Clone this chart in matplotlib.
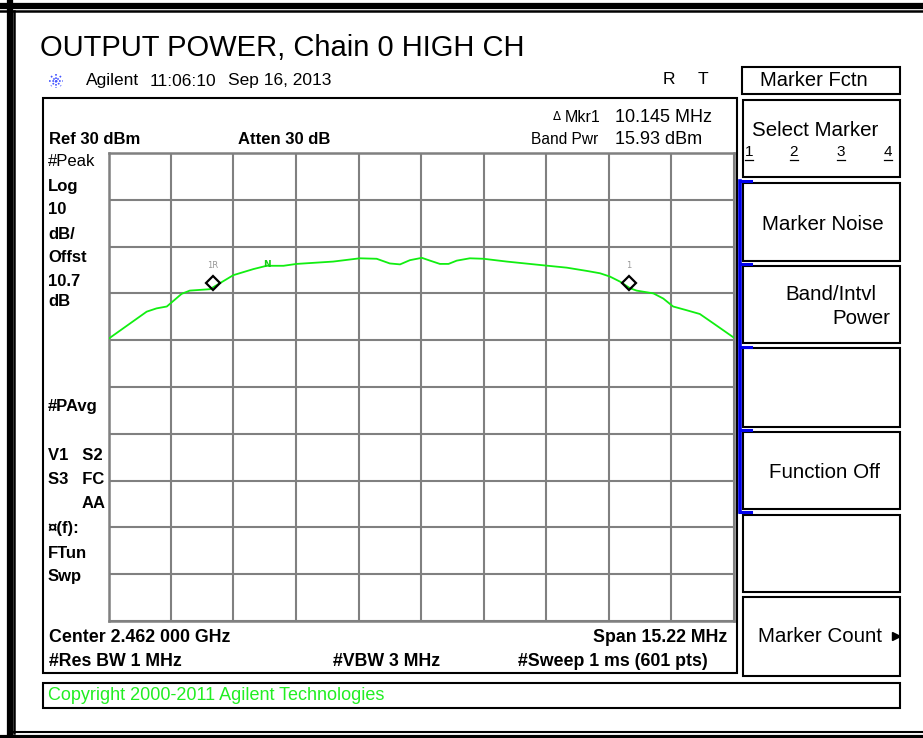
import matplotlib
matplotlib.use("Agg")
import numpy as np
import matplotlib.pyplot as plt
from matplotlib.patches import Rectangle
from matplotlib.lines import Line2D

# trace: offset from centre (MHz) and level (dBm)
freq_mhz = [-7.61, -6.68, -6.44, -6.19, -5.83, -5.63, -5.14, -4.57, -4.08, -3.76,
            -3.35, -3.03, -2.14, -1.49, -1.08, -0.76, -0.51, -0.27, 0.02, 0.22,
            0.46, 0.67, 0.87, 1.19, 1.52, 2.09, 2.98, 3.55, 4.04, 4.36,
            4.60, 4.85, 5.09, 5.25, 5.66, 5.90, 6.14, 6.47, 6.79, 7.12, 7.61]
level_dbm = [-9.7, -3.9, -3.2, -2.8, -0.1, 0.6, 0.9, 3.9, 5.2, 5.9,
             5.9, 6.3, 6.8, 7.5, 7.4, 6.4, 6.2, 7.1, 7.6, 7.0,
             6.3, 6.3, 7.0, 7.5, 7.4, 6.8, 6.0, 5.5, 4.8, 4.3,
             3.6, 2.5, 1.1, 0.6, 0.0, -1.1, -2.8, -3.6, -4.4, -6.4, -9.4]

marker_freq = [-5.07, 5.07]
marker_level = [2.3, 2.3]
marker_names = ["1R", "1"]
noise_freq = -3.76
noise_level = 5.9

ref_level = 30
db_per_div = 10
span_mhz = 15.22

left_labels = [("#Peak", 162, "normal"), ("Log", 186, "bold"), ("10", 210, "bold"),
               ("dB/", 234, "bold"), ("Offst", 258, "bold"), ("10.7", 281, "bold"),
               ("dB", 302, "bold"), ("#PAvg", 407, "bold"), ("V1   S2", 456, "bold"),
               ("S3   FC", 480, "bold"), ("¤(f):", 528, "bold"), ("FTun", 553, "bold"),
               ("Swp", 577, "bold")]

W, H = 923, 738
fig = plt.figure(figsize=(W / 100, H / 100), dpi=100)
fig.patch.set_facecolor("white")

SANS = ["Liberation Sans", "DejaVu Sans"]


def fx(x):
    return x / W


def fy(y):
    return 1 - y / H


def txt(x, y, s, size=12, weight="normal", ha="left", color="black", family=SANS):
    fig.text(fx(x), fy(y), s, fontsize=size, fontweight=weight, ha=ha, va="center",
             color=color, family=family)


def box(x0, y0, x1, y1, lw=1.5, ec="black"):
    fig.add_artist(Rectangle((fx(x0), fy(y1)), (x1 - x0) / W, (y1 - y0) / H,
                             fill=False, lw=lw, ec=ec, transform=fig.transFigure))


def seg(xs, ys, lw=1.5, color="black", **kw):
    fig.add_artist(Line2D([fx(x) for x in xs], [fy(y) for y in ys], lw=lw,
                          color=color, transform=fig.transFigure, **kw))


# outer frame
seg([0, W], [5.5, 5.5], lw=4.5)
seg([0, W], [11, 11], lw=1.8)
seg([10, 10], [0, H], lw=4.5)
seg([14.5, 14.5], [11, 733], lw=1.8)
seg([14.5, W], [732, 732], lw=1.5)
seg([0, W], [736.5, 736.5], lw=3)

# title / header
txt(40, 48, "OUTPUT POWER, Chain 0 HIGH CH", size=21)
for a in np.arange(0, 180, 45):
    dx, dy = 7 * np.cos(np.radians(a)), 7 * np.sin(np.radians(a))
    seg([56 - dx, 56 + dx], [81 - dy, 81 + dy], lw=1.2, color="#4455ff", ls=(0, (1, 1)))
txt(86, 81, "Agilent", size=12.5)
txt(150, 81, "11:06:10", size=12.5)
txt(228, 81, "Sep 16, 2013", size=12.5)
txt(663, 80, "R", size=12.5)
txt(698, 80, "T", size=12.5)

# main screen box
box(43, 98, 737, 673)
txt(553, 117, "\u0394", size=8.5, family=["DejaVu Sans"])
txt(565, 117, "Mkr1", size=11.5)
txt(615, 117, "10.145 MHz", size=13)
txt(531, 139, "Band Pwr", size=11.2)
txt(615, 139, "15.93 dBm", size=13)
txt(49, 139, "Ref 30 dBm", size=12, weight="bold")
txt(238, 139, "Atten 30 dB", size=12, weight="bold")
for s, y, w in left_labels:
    txt(48, y, s, size=12, weight=w)
txt(106, 504, "AA", size=12, weight="bold", ha="right")

txt(49, 637, "Center 2.462 000 GHz", size=12.8, weight="bold")
txt(727, 637, "Span 15.22 MHz", size=12.8, weight="bold", ha="right")
txt(49, 661, "#Res BW 1 MHz", size=12.8, weight="bold")
txt(333, 661, "#VBW 3 MHz", size=12.8, weight="bold")
txt(708, 661, "#Sweep 1 ms (601 pts)", size=12.8, weight="bold", ha="right")

# graticule + trace
ax = fig.add_axes([fx(108.5), fy(621), 625 / W, 468 / H])
half = span_mhz / 2
ax.set_xlim(-half, half)
ax.set_ylim(ref_level - 10 * db_per_div, ref_level)
ax.set_xticks(np.linspace(-half, half, 11))
ax.set_yticks(np.arange(ref_level - 10 * db_per_div, ref_level + 1, db_per_div))
ax.tick_params(length=0, labelbottom=False, labelleft=False)
ax.grid(True, color="#808080", lw=1.5)
for sp in ax.spines.values():
    sp.set_color("#808080")
    sp.set_linewidth(1.8)
ax.set_facecolor("white")

ax.plot(freq_mhz, level_dbm, color="#11ee11", lw=1.3, zorder=3)
ax.plot(marker_freq, marker_level, ls="none", marker="D", ms=7.5, mfc="none",
        mec="black", mew=1.6, zorder=4)
for f, l, name in zip(marker_freq, marker_level, marker_names):
    ax.annotate(name, (f, l), xytext=(0, 12), textcoords="offset points", ha="center",
                va="center", fontsize=6, color="#999999", family=["DejaVu Sans"])
ax.text(noise_freq, noise_level + 0.2, "N", color="#11cc11", fontsize=6.5,
        fontweight="bold", ha="center", va="center")

# soft keys
box(742, 67, 900, 94)
txt(760, 80, "Marker Fctn", size=14.5)
key_rows = [(100, 177), (183, 261), (266, 343), (348, 427), (432, 509), (515, 592), (597, 676)]
for top, bot in key_rows:
    box(743, top, 900, bot)
txt(752, 130, "Select Marker", size=14.8)
for x, d in zip([749, 794, 841, 888], "1234"):
    txt(x, 152, d, size=11, ha="center")
    seg([x - 4, x + 4], [160, 160], lw=0.9)
txt(762, 224, "Marker Noise", size=14.8)
txt(785, 295, "Band/Intvl", size=14.8)
txt(890, 318, "Power", size=14.8, ha="right")
txt(769, 473, "Function Off", size=14.8)
txt(758, 637, "Marker Count", size=14.8)
seg([896], [636], lw=0, marker=">", ms=5.5, mfc="black", mec="black")

seg([740, 740], [181, 512], lw=2.6, color="#0000ee")
for y in [181, 264, 347, 430, 512]:
    seg([740, 751], [y, y], lw=2.2, color="#0000ee")

# copyright strip
box(43, 683, 900, 708)
txt(48, 696, "Copyright 2000-2011 Agilent Technologies", size=13, color="#22ee22")

fig.savefig("out.png", dpi=100)
